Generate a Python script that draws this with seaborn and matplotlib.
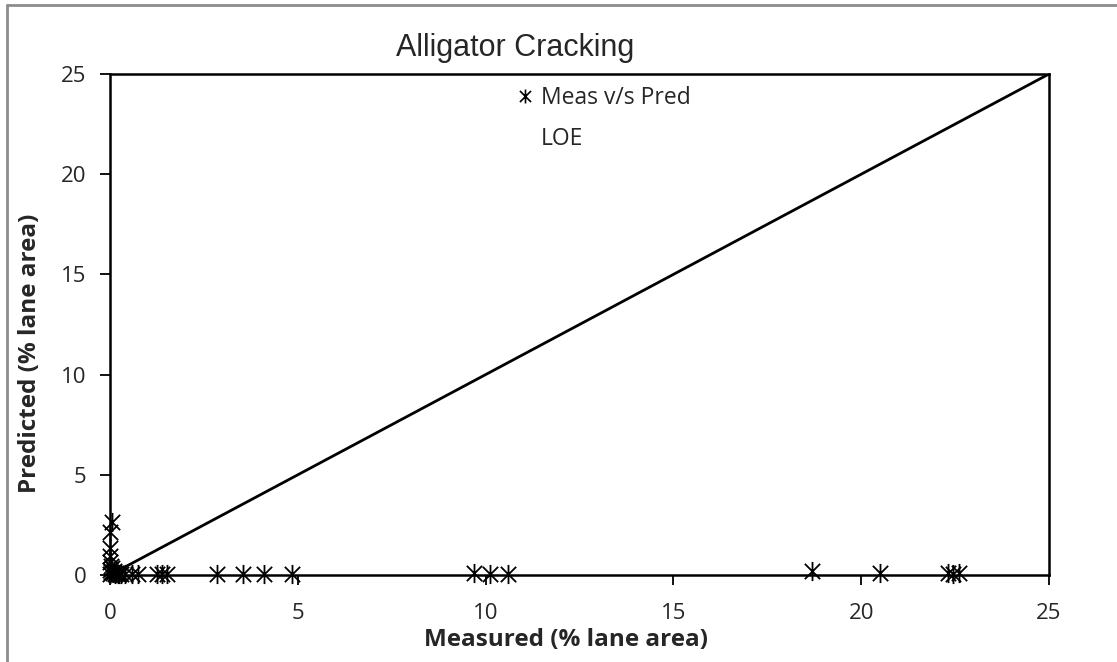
import numpy as np
import matplotlib
matplotlib.use("Agg")
import matplotlib.pyplot as plt
from matplotlib.path import Path
from matplotlib.lines import Line2D
import seaborn as sns

# Measured vs predicted alligator cracking (% lane area)
measured = [0.05, 0.0, 0.0, 0.0, 0.0, 0.02, 0.05, 0.0, 0.1, 0.03, 0.0, 0.08,
            0.12, 0.15, 0.2, 0.25, 0.3, 0.4, 0.58, 0.75, 1.25, 1.38, 1.52,
            2.85, 3.55, 4.1, 4.85, 9.7, 10.12, 10.6, 18.7, 20.5, 22.3, 22.45, 22.6]
predicted = [2.65, 2.15, 1.35, 0.95, 0.65, 0.45, 0.35, 0.25, 0.2, 0.15, 0.05, 0.1,
             0.05, 0.1, 0.05, 0.05, 0.05, 0.05, 0.05, 0.05, 0.05, 0.05, 0.05,
             0.05, 0.05, 0.05, 0.05, 0.08, 0.05, 0.05, 0.22, 0.1, 0.08, 0.05, 0.1]
loe_x = [0, 25]
loe_y = [0, 25]
ticks = [0, 5, 10, 15, 20, 25]

sns.set_theme(style="white")
plt.rcParams["font.family"] = ["Open Sans", "DejaVu Sans"]

fig = plt.figure(figsize=(11.17, 6.62), dpi=100)
ax = fig.add_axes([110 / 1117, 1 - 575 / 662, 939 / 1117, 501 / 662])

# Asterisk marker: vertical stroke plus an X
star = Path([(0, -1), (0, 1), (-0.8, -0.8), (0.8, 0.8), (-0.8, 0.8), (0.8, -0.8)],
            [Path.MOVETO, Path.LINETO, Path.MOVETO, Path.LINETO, Path.MOVETO, Path.LINETO])

sns.lineplot(x=loe_x, y=loe_y, ax=ax, color="black", lw=2, zorder=2)
sns.scatterplot(x=measured, y=predicted, ax=ax, marker=star, s=190,
                color="black", edgecolor="black", linewidth=1.3, zorder=3,
                clip_on=False)

ax.set_xlim(0, 25)
ax.set_ylim(0, 25)
ax.set_xticks(ticks)
ax.set_yticks(ticks)
ax.tick_params(axis="both", direction="out", length=7, width=1.3, color="black",
               labelsize=16, left=True, bottom=True)
ax.tick_params(axis="x", pad=13)
ax.tick_params(axis="y", pad=10)
for sp in ax.spines.values():
    sp.set_color("black")
    sp.set_linewidth(1.8)

ax.set_xlabel("Measured (% lane area)", fontsize=17.5, fontweight="bold")
ax.set_ylabel("Predicted (% lane area)", fontsize=17.5, fontweight="bold")
ax.xaxis.set_label_coords(0.4856, -(640 - 575) / 501, transform=ax.transAxes)
ax.xaxis.label.set_va("center")
ax.yaxis.set_label_coords(-(110 - 30) / 939, 0.443, transform=ax.transAxes)
ax.yaxis.label.set_va("center")
fig.text(515 / 1117, 1 - 48 / 662, "Alligator Cracking",
         ha="center", va="center", fontsize=22, family="Liberation Sans")

handles = [Line2D([], [], marker=star, ls="none", color="black", markersize=10,
                  markeredgewidth=1.2),
           Line2D([], [], color="none")]
ax.legend(handles, ["Meas v/s Pred", "LOE"], loc="upper left",
          bbox_to_anchor=((516 - 110) / 939, 1 - (86 - 74) / 501), frameon=False,
          fontsize=16.5, handlelength=0.8, handletextpad=0.3, labelspacing=0.75,
          borderaxespad=0, borderpad=0)

# Chart area border
fig.add_artist(Line2D([7 / 1117, 7 / 1117], [0, 1 - 5 / 662], color="#8c8c8c", lw=2,
                      transform=fig.transFigure))
fig.add_artist(Line2D([7 / 1117, 1], [1 - 5 / 662, 1 - 5 / 662], color="#8c8c8c", lw=2,
                      transform=fig.transFigure))

fig.savefig("out.png", dpi=100, facecolor="white")
